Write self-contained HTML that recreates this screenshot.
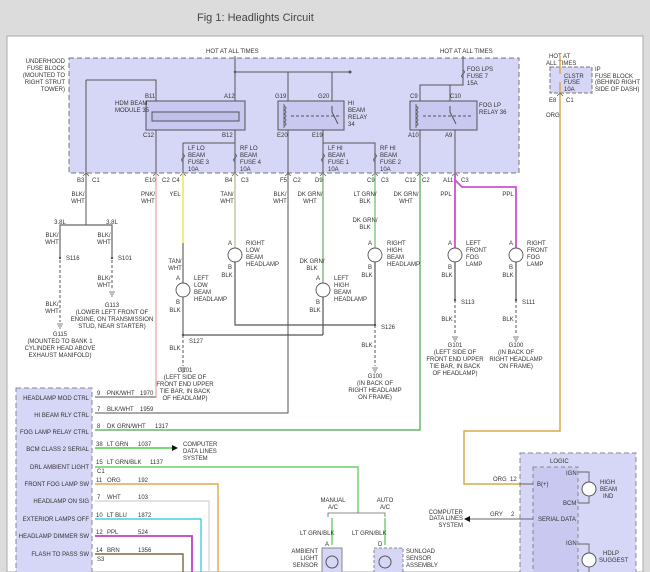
<!DOCTYPE html>
<html><head><meta charset="utf-8"><style>
html,body{margin:0;padding:0;background:#fff;}
svg{display:block;font-family:"Liberation Sans",sans-serif;}
text{font-size:6px;fill:#333;}
</style></head><body>
<svg width="650" height="572" viewBox="0 0 650 572" xmlns="http://www.w3.org/2000/svg">
<rect x="0" y="0" width="650" height="572" fill="#dcdcdc"/>
<rect x="7" y="36" width="636" height="536" fill="#fff" stroke="#aaa" stroke-width="1"/>
<text x="197" y="21" style="font-size:11px;fill:#444">Fig 1: Headlights Circuit</text>

<!-- underhood fuse block -->
<rect x="69" y="58" width="450" height="115" fill="#d6d6f6" stroke="#777" stroke-dasharray="5,3"/>
<g text-anchor="end"><text x="65" y="63">UNDERHOOD</text><text x="65" y="70">FUSE BLOCK</text><text x="65" y="77">(MOUNTED TO</text><text x="65" y="84">RIGHT STRUT</text><text x="65" y="91">TOWER)</text></g>
<text x="206" y="53">HOT AT ALL TIMES</text>
<text x="440" y="53">HOT AT ALL TIMES</text>

<g stroke="#555" fill="none" stroke-width="1">
<path d="M235 56V173M235 72H350M288 72V101M332 72V101"/>
<path d="M86 80H156V101M86 80V225"/>
<rect x="146" y="101" width="99" height="29" fill="#c8c8f0"/>
<rect x="152" y="112" width="87" height="9" fill="#c0c0ec"/>
<path d="M156 130V397H95M183 143H235M183 143V173"/>
<rect x="278" y="101" width="66" height="29" fill="#c8c8f0"/>
<path d="M288 130V413H95M323 130V143H375V173M323 143V173"/>
<path d="M291 116H340" stroke-dasharray="3,2"/>
<path d="M332 106V112L338 124"/>
<path d="M463 56V85H420V101M450 85V101"/>
<rect x="410" y="101" width="67" height="29" fill="#c8c8f0"/>
<path d="M423 116H472" stroke-dasharray="3,2"/>
<path d="M450 106V112L456 124"/>
<path d="M420 130V173M455 130V173"/>
</g>
<g stroke="#555" fill="none" stroke-width="0.8">
<path d="M284 104V128M284 106q4 2 0 4q4 2 0 4q4 2 0 4q4 2 0 4q4 2 0 4"/>
<path d="M416 104V128M416 106q4 2 0 4q4 2 0 4q4 2 0 4q4 2 0 4q4 2 0 4"/>
<path d="M183 154q3 2 0 4q-3 2 0 4M235 154q3 2 0 4q-3 2 0 4M323 154q3 2 0 4q-3 2 0 4M375 154q3 2 0 4q-3 2 0 4M463 70q3 2 0 4q-3 2 0 4M560 74q3 2 0 4q-3 2 0 4"/>
</g>
<text x="115" y="105">HDM BEAM</text><text x="115" y="112">MODULE 35</text>
<text x="145" y="98">B11</text><text x="224" y="98">A12</text><text x="143" y="137">C12</text><text x="222" y="137">B12</text>
<text x="188" y="150">LF LO</text><text x="188" y="157">BEAM</text><text x="188" y="164">FUSE 3</text><text x="188" y="171">10A</text>
<text x="240" y="150">RF LO</text><text x="240" y="157">BEAM</text><text x="240" y="164">FUSE 4</text><text x="240" y="171">10A</text>
<text x="275" y="98">G19</text><text x="318" y="98">G20</text><text x="277" y="137">E20</text><text x="312" y="137">E19</text>
<text x="348" y="105">HI</text><text x="348" y="112">BEAM</text><text x="348" y="119">RELAY</text><text x="348" y="126">34</text>
<text x="328" y="150">LF HI</text><text x="328" y="157">BEAM</text><text x="328" y="164">FUSE 1</text><text x="328" y="171">10A</text>
<text x="380" y="150">RF HI</text><text x="380" y="157">BEAM</text><text x="380" y="164">FUSE 2</text><text x="380" y="171">10A</text>
<text x="467" y="71">FOG LPS</text><text x="467" y="78">FUSE 7</text><text x="467" y="85">15A</text>
<text x="410" y="98">C9</text><text x="450" y="98">C10</text><text x="408" y="137">A10</text><text x="445" y="137">A9</text>
<text x="479" y="107">FOG LP</text><text x="479" y="114">RELAY 36</text>

<text x="549" y="58">HOT AT</text><text x="546" y="65">ALL TIMES</text>
<rect x="550" y="67" width="42" height="26" fill="#d6d6f6" stroke="#777" stroke-dasharray="4,2"/>
<text x="564" y="78">CLSTR</text><text x="564" y="84">FUSE</text><text x="564" y="91">10A</text>
<text x="595" y="71">IP</text><text x="595" y="78">FUSE BLOCK</text><text x="595" y="84">(BEHIND RIGHT</text><text x="595" y="91">SIDE OF DASH)</text>
<text x="549" y="102">E8</text><text x="566" y="102">C1</text><text x="546" y="117">ORG</text>
<path d="M560 56V74M560 82V431H464V484H519" stroke="#d9a84a" stroke-width="1.5" fill="none"/>

<text x="77" y="182">B3</text><text x="92" y="182">C1</text>
<text x="145" y="182">E10</text><text x="162" y="182">C2</text><text x="172" y="182">C4</text>
<text x="225" y="182">B4</text><text x="241" y="182">C3</text>
<text x="280" y="182">F5</text><text x="293" y="182">C2</text><text x="315" y="182">D9</text>
<text x="367" y="182">C9</text><text x="381" y="182">C3</text>
<text x="405" y="182">C12</text><text x="422" y="182">C2</text>
<text x="443" y="182">A11</text><text x="461" y="182">C3</text>
<g stroke="#666" fill="none" stroke-width="0.8">
<path d="M83 176L86 173L89 176M153 176L156 173L159 176M180 176L183 173L186 176M232 176L235 173L238 176M285 176L288 173L291 176M320 176L323 173L326 176M372 176L375 173L378 176M417 176L420 173L423 176M452 176L455 173L458 176M557 96L560 93L563 96"/>
</g>

<g fill="none" stroke-width="1.2">
<path d="M156 173V397" stroke="#e9a0a8"/>
<path d="M183 173V243" stroke="#e8e84a" stroke-width="1.5"/>
<path d="M183 243V283M183 297V335" stroke="#666"/>
<path d="M235 173V248" stroke="#b8b890"/>
<path d="M235 262V325H375" stroke="#555"/>
<path d="M183 335H323" stroke="#555"/>
<path d="M323 173V283" stroke="#6aaa6a"/>
<path d="M323 297V335" stroke="#555"/>
<path d="M375 173V248" stroke="#6aba6a"/>
<path d="M375 262V325" stroke="#555"/>
<path d="M420 173V430H95" stroke="#4aa84a"/>
<path d="M455 173V248M455 180L462 187H516V248" stroke="#d050d0" stroke-width="1.8"/>
<path d="M455 262V300M516 262V300" stroke="#555"/>
<path d="M86 225H60V255M86 225H112V255" stroke="#666"/>
</g>
<g fill="none" stroke="#555" stroke-dasharray="3,2">
<path d="M60 255V322M112 255V290M183 335V366M375 325V366M455 300V335M516 300V335"/>
</g>
<g fill="#555"><circle cx="60" cy="258" r="1.2"/><circle cx="112" cy="258" r="1.2"/><circle cx="183" cy="335" r="1.2"/><circle cx="375" cy="325" r="1.2"/><circle cx="455" cy="300" r="1.2"/><circle cx="516" cy="300" r="1.2"/><circle cx="235" cy="72" r="1.2"/><circle cx="350" cy="72" r="1.5"/></g>
<g stroke="#555" fill="none" stroke-width="0.8">
<path d="M57 324H63M58 326H62M59 328H61M109 292H115M110 294H114M111 296H113M180 368H186M181 370H185M182 372H184M372 368H378M373 370H377M374 372H376M452 337H458M453 339H457M454 341H456M513 337H519M514 339H518M515 341H517"/>
</g>
<g stroke="#555" fill="#fff" stroke-width="0.9">
<circle cx="183" cy="290" r="7"/><circle cx="235" cy="255" r="7"/><circle cx="323" cy="290" r="7"/><circle cx="375" cy="255" r="7"/><circle cx="455" cy="255" r="7"/><circle cx="516" cy="255" r="7"/>
</g>
<g text-anchor="middle">
<text x="78" y="196">BLK/</text><text x="78" y="203">WHT</text>
<text x="60" y="224">3.8L</text><text x="112" y="224">3.8L</text>
<text x="52" y="237">BLK/</text><text x="52" y="244">WHT</text>
<text x="104" y="237">BLK/</text><text x="104" y="244">WHT</text>
<text x="104" y="280">BLK/</text><text x="104" y="287">WHT</text>
<text x="52" y="306">BLK/</text><text x="52" y="313">WHT</text>
<text x="60" y="336">G115</text><text x="60" y="343">(MOUNTED TO BANK 1</text><text x="60" y="350">CYLINDER HEAD ABOVE</text><text x="60" y="357">EXHAUST MANIFOLD)</text>
<text x="112" y="307">G113</text><text x="112" y="314">(LOWER LEFT FRONT OF</text><text x="112" y="321">ENGINE, ON TRANSMISSION</text><text x="112" y="328">STUD, NEAR STARTER)</text>
<text x="148" y="196">PNK/</text><text x="148" y="203">WHT</text>
<text x="175" y="196">YEL</text>
<text x="227" y="196">TAN/</text><text x="227" y="203">WHT</text>
<text x="280" y="196">BLK/</text><text x="280" y="203">WHT</text>
<text x="310" y="196">DK GRN/</text><text x="310" y="203">WHT</text>
<text x="365" y="196">LT GRN/</text><text x="365" y="203">BLK</text>
<text x="365" y="222">DK GRN/</text><text x="365" y="229">BLK</text>
<text x="406" y="196">DK GRN/</text><text x="406" y="203">WHT</text>
<text x="446" y="196">PPL</text><text x="508" y="196">PPL</text>
<text x="175" y="263">TAN/</text><text x="175" y="270">WHT</text>
<text x="312" y="263">DK GRN/</text><text x="312" y="270">BLK</text>
<text x="175" y="312">BLK</text><text x="227" y="277">BLK</text><text x="315" y="312">BLK</text><text x="367" y="277">BLK</text><text x="447" y="277">BLK</text><text x="508" y="277">BLK</text>
<text x="175" y="350">BLK</text><text x="367" y="347">BLK</text><text x="447" y="321">BLK</text><text x="508" y="321">BLK</text>
<text x="185" y="372">G101</text><text x="185" y="379">(LEFT SIDE OF</text><text x="185" y="386">FRONT END UPPER</text><text x="185" y="393">TIE BAR, IN BACK</text><text x="185" y="400">OF HEADLAMP)</text>
<text x="375" y="378">G100</text><text x="375" y="385">(IN BACK OF</text><text x="375" y="392">RIGHT HEADLAMP</text><text x="375" y="399">ON FRAME)</text>
<text x="455" y="347">G101</text><text x="455" y="354">(LEFT SIDE OF</text><text x="455" y="361">FRONT END UPPER</text><text x="455" y="368">TIE BAR, IN BACK</text><text x="455" y="375">OF HEADLAMP)</text>
<text x="516" y="347">G100</text><text x="516" y="354">(IN BACK OF</text><text x="516" y="361">RIGHT HEADLAMP</text><text x="516" y="368">ON FRAME)</text>
</g>
<text x="66" y="260">S116</text><text x="118" y="260">S101</text><text x="189" y="343">S127</text><text x="381" y="329">S126</text><text x="461" y="304">S113</text><text x="522" y="304">S111</text>
<text x="176" y="280">A</text><text x="176" y="304">B</text><text x="228" y="245">A</text><text x="228" y="269">B</text>
<text x="316" y="280">A</text><text x="316" y="304">B</text><text x="368" y="245">A</text><text x="368" y="269">B</text>
<text x="448" y="245">A</text><text x="448" y="269">B</text><text x="509" y="245">A</text><text x="509" y="269">B</text>
<text x="194" y="280">LEFT</text><text x="194" y="287">LOW</text><text x="194" y="294">BEAM</text><text x="194" y="301">HEADLAMP</text>
<text x="246" y="245">RIGHT</text><text x="246" y="252">LOW</text><text x="246" y="259">BEAM</text><text x="246" y="266">HEADLAMP</text>
<text x="334" y="280">LEFT</text><text x="334" y="287">HIGH</text><text x="334" y="294">BEAM</text><text x="334" y="301">HEADLAMP</text>
<text x="387" y="245">RIGHT</text><text x="387" y="252">HIGH</text><text x="387" y="259">BEAM</text><text x="387" y="266">HEADLAMP</text>
<text x="466" y="245">LEFT</text><text x="466" y="252">FRONT</text><text x="466" y="259">FOG</text><text x="466" y="266">LAMP</text>
<text x="527" y="245">RIGHT</text><text x="527" y="252">FRONT</text><text x="527" y="259">FOG</text><text x="527" y="266">LAMP</text>

<rect x="16" y="388" width="76" height="190" fill="#d6d6f6" stroke="#888" stroke-dasharray="5,3"/>
<g text-anchor="end">
<text x="89" y="400">HEADLAMP MOD CTRL</text><text x="89" y="417">HI BEAM RLY CTRL</text><text x="89" y="434">FOG LAMP RELAY CTRL</text><text x="89" y="451">BCM CLASS 2 SERIAL</text><text x="89" y="469">DRL AMBIENT LIGHT</text><text x="89" y="486">FRONT FOG LAMP SW</text><text x="89" y="503">HEADLAMP ON SIG</text><text x="89" y="521">EXTERIOR LAMPS OFF</text><text x="89" y="538">HEADLAMP DIMMER SW</text><text x="89" y="556">FLASH TO PASS SW</text>
</g>
<g fill="none" stroke-width="1.4">
<path d="M95 448H172" stroke="#4ad04a"/>
<path d="M95 467H358V513" stroke="#6ad06a"/>
<path d="M95 484H218V572" stroke="#e0a850"/>
<path d="M95 501H209V572" stroke="#d8d8d8"/>
<path d="M95 519H201V572" stroke="#40d0e0"/>
<path d="M95 536H192V572" stroke="#c040c0" stroke-width="1.8"/>
<path d="M95 554H183V572" stroke="#7a6a40"/>
<path d="M332 518V545M385 518V545" stroke="#6ad06a"/>
</g>
<path d="M172 445L178 448L172 451Z" fill="#111"/>
<path d="M328 517V513H385V517" fill="none" stroke="#666" stroke-width="0.8"/>
<text x="97" y="395">9</text><text x="107" y="395">PNK/WHT</text><text x="140" y="395">1970</text>
<text x="97" y="411">7</text><text x="107" y="411">BLK/WHT</text><text x="140" y="411">1959</text>
<text x="97" y="428">8</text><text x="107" y="428">DK GRN/WHT</text><text x="155" y="428">1317</text>
<text x="96" y="446">38</text><text x="107" y="446">LT GRN</text><text x="138" y="446">1037</text>
<text x="96" y="464">15</text><text x="107" y="464">LT GRN/BLK</text><text x="150" y="464">1137</text><text x="97" y="473">C1</text>
<text x="96" y="482">11</text><text x="107" y="482">ORG</text><text x="138" y="482">192</text>
<text x="97" y="499">7</text><text x="107" y="499">WHT</text><text x="138" y="499">103</text>
<text x="96" y="517">10</text><text x="107" y="517">LT BLU</text><text x="138" y="517">1872</text>
<text x="96" y="534">12</text><text x="107" y="534">PPL</text><text x="138" y="534">524</text>
<text x="96" y="552">14</text><text x="107" y="552">BRN</text><text x="138" y="552">1356</text><text x="97" y="561">S3</text>
<text x="183" y="446">COMPUTER</text><text x="183" y="453">DATA LINES</text><text x="183" y="460">SYSTEM</text>
<g text-anchor="middle"><text x="333" y="502">MANUAL</text><text x="333" y="509">A/C</text><text x="385" y="502">AUTO</text><text x="385" y="509">A/C</text></g>
<text x="300" y="535">LT GRN/BLK</text><text x="352" y="535">LT GRN/BLK</text><text x="325" y="546">A</text><text x="378" y="546">D</text>
<rect x="322" y="548" width="20" height="26" fill="#d6d6f6" stroke="#888"/>
<rect x="374" y="548" width="29" height="26" fill="#d6d6f6" stroke="#888" stroke-dasharray="3,2"/>
<circle cx="332" cy="562" r="6" fill="none" stroke="#555"/><circle cx="385" cy="562" r="6" fill="none" stroke="#555"/>
<g text-anchor="end"><text x="318" y="553">AMBIENT</text><text x="318" y="560">LIGHT</text><text x="318" y="567">SENSOR</text></g>
<text x="406" y="553">SUNLOAD</text><text x="406" y="560">SENSOR</text><text x="406" y="567">ASSEMBLY</text>

<rect x="520" y="453" width="116" height="125" fill="#d6d6f6" stroke="#888" stroke-dasharray="5,3"/>
<rect x="533" y="467" width="45" height="111" fill="#c8c8f0" stroke="#888" stroke-dasharray="4,3"/>
<text x="550" y="463">LOGIC</text>
<text x="566" y="475">IGN</text><text x="537" y="486">B(+)</text><text x="563" y="505">BCM</text><text x="538" y="521">SERIAL DATA</text><text x="566" y="545">IGN</text>
<path d="M578 472H589V503H578M578 544H589V572M519 484H533M470 519H533" fill="none" stroke="#666" stroke-width="0.9"/>
<circle cx="589" cy="489" r="7" fill="#fff" stroke="#555"/><circle cx="589" cy="560" r="7" fill="#fff" stroke="#555"/>
<text x="600" y="484">HIGH</text><text x="600" y="491">BEAM</text><text x="603" y="498">IND</text>
<text x="603" y="555">HDLP</text><text x="599" y="562">SUGGEST</text>
<text x="493" y="481">ORG</text><text x="510" y="481">12</text><text x="490" y="516">GRY</text><text x="511" y="516">2</text>
<path d="M464 519L470 516V522Z" fill="#111"/>
<g text-anchor="end"><text x="463" y="514">COMPUTER</text><text x="463" y="520">DATA LINES</text><text x="463" y="527">SYSTEM</text></g>
</svg>
</body></html>
